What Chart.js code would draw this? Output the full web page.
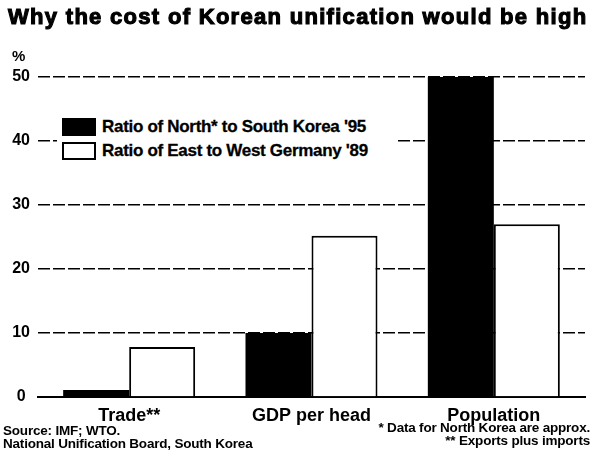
<!DOCTYPE html>
<html>
<head>
<meta charset="utf-8">
<script src="https://cdn.jsdelivr.net/npm/chart.js@4.4.0/dist/chart.umd.min.js"></script>
<style>
  html, body { margin:0; padding:0; background:#fff; }
  body { width:593px; height:459px; position:relative; overflow:hidden; font-family:"Liberation Sans", Arial, sans-serif; color:#000; }
  #wrap { position:absolute; left:0; top:0; width:593px; height:459px; }
  .title { position:absolute; left:8px; top:4px; font-weight:bold; font-size:22px; white-space:nowrap; -webkit-text-stroke:1.1px #000; letter-spacing:1.3px; }
  .unit { position:absolute; left:12px; top:47px; font-weight:bold; font-size:15px; }
  .legend { position:absolute; left:57px; top:111px; width:340px; height:54px; background:#fff; }
  .row { position:absolute; left:5px; height:18px; display:flex; align-items:center; }
  .sw { width:34px; height:18px; box-sizing:border-box; border:2px solid #000; margin-right:6px; }
  .lt { font-weight:bold; font-size:17px; white-space:nowrap; letter-spacing:-0.3px; -webkit-text-stroke:0.3px #000; }
  .src { position:absolute; left:3px; top:424px; font-weight:bold; font-size:13.5px; line-height:13px; letter-spacing:-0.2px; white-space:nowrap; }
  .notes { position:absolute; right:3px; top:421px; font-weight:bold; font-size:13.5px; line-height:13px; letter-spacing:-0.2px; text-align:right; white-space:nowrap; }
</style>
</head>
<body>
<div id="wrap"><canvas id="c" width="593" height="459"></canvas></div>
<div class="title">Why the cost of Korean unification would be high</div>
<div class="unit">%</div>
<div class="legend">
  <div class="row" style="top:7px"><div class="sw" style="background:#000"></div><span class="lt">Ratio of North* to South Korea '95</span></div>
  <div class="row" style="top:31px"><div class="sw" style="background:#fff"></div><span class="lt">Ratio of East to West Germany '89</span></div>
</div>
<div class="src">Source: IMF; WTO.<br>National Unification Board, South Korea</div>
<div class="notes">* Data for North Korea are approx.<br>** Exports plus imports</div>
<script>
const categories = ["Trade**", "GDP per head", "Population"];
const seriesNames = ["Ratio of North* to South Korea '95", "Ratio of East to West Germany '89"];
const northSouthKorea = [1.1, 10, 50];
const eastWestGermany = [7.8, 25.2, 27];
const yTicks = [0, 10, 20, 30, 40, 50];

new Chart(document.getElementById('c'), {
  type: 'bar',
  data: {
    labels: categories,
    datasets: [
      { label: seriesNames[0], data: northSouthKorea, backgroundColor: '#000', borderColor: '#000', borderWidth: 0, categoryPercentage: 0.724, barPercentage: 1 },
      { label: seriesNames[1], data: eastWestGermany, backgroundColor: '#fff', borderColor: '#000', borderWidth: 2, categoryPercentage: 0.724, barPercentage: 1 }
    ]
  },
  options: {
    responsive: false,
    animation: false,
    devicePixelRatio: 1,
    layout: { padding: { top: 77, right: 8, left: 0, bottom: 0 } },
    plugins: { legend: { display: false }, tooltip: { enabled: false }, title: { display: false } },
    scales: {
      x: {
        grid: { display: false },
        border: { display: true, color: '#000', width: 2 },
        ticks: { color: '#000', font: { family: 'Liberation Sans', weight: 'bold', size: 18 }, padding: 0 },
        afterFit: s => { s.height = 62; }
      },
      y: {
        min: 0, max: 50,
        afterBuildTicks: s => { s.ticks = yTicks.map(v => ({ value: v })); },
        grid: { color: '#000', lineWidth: 1.5, drawTicks: false },
        border: { display: false, dash: [12, 3] },
        ticks: { color: '#000', font: { family: 'Liberation Sans', weight: 'bold', size: 16 }, padding: 8, crossAlign: 'center' },
        afterFit: s => { s.width = 38; }
      }
    }
  }
});
</script>
</body>
</html>
